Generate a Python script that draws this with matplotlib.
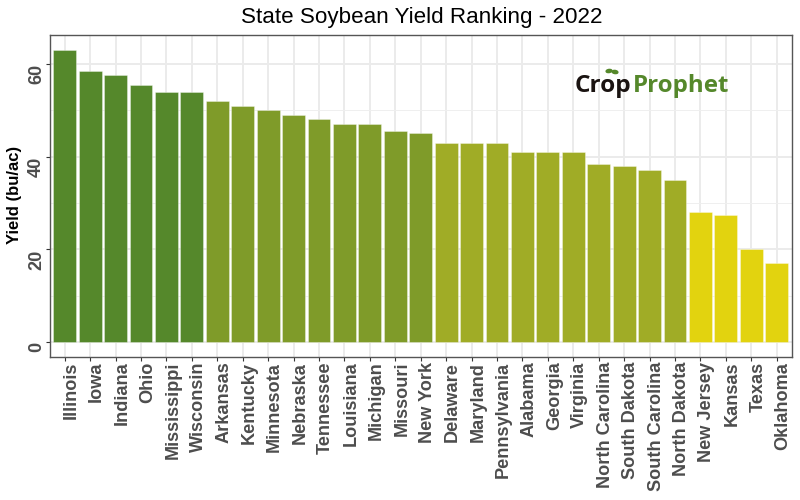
import numpy as np
import matplotlib
matplotlib.use("Agg")
import matplotlib.pyplot as plt
from matplotlib.patches import Ellipse
from matplotlib.transforms import ScaledTranslation

plt.rcParams["font.family"] = ["Liberation Sans", "DejaVu Sans"]

# Dati
states = [
    "Illinois", "Iowa", "Indiana", "Ohio", "Mississippi", "Wisconsin",
    "Arkansas", "Kentucky", "Minnesota", "Nebraska", "Tennessee", "Louisiana",
    "Michigan", "Missouri", "New York", "Delaware", "Maryland", "Pennsylvania",
    "Alabama", "Georgia", "Virginia", "North Carolina", "South Dakota",
    "South Carolina", "North Dakota", "New Jersey", "Kansas", "Texas", "Oklahoma",
]
yields = [
    63, 58.5, 57.5, 55.5, 54, 54,
    52, 51, 50, 49, 48, 47,
    47, 45.5, 45, 43, 43, 43,
    41, 41, 41, 38.5, 38,
    37, 35, 28, 27.5, 20, 17,
]
y_ticks = [0, 20, 40, 60]
y_minor = [10, 30, 50]

width_px = 800
height_px = 500


def bar_color(value):
    # Quattro classi di resa
    if value >= 53:
        return "#55882B"
    if value >= 44:
        return "#7F9B29"
    if value >= 30:
        return "#A0AC26"
    return "#E2D30F"


fig = plt.figure(figsize=(8, 5), dpi=100)
left, right, top, bottom = 49.5, 792.0, 35.3, 356.7
ax = fig.add_axes([left / width_px, 1 - bottom / height_px,
                   (right - left) / width_px, (bottom - top) / height_px])

x = np.arange(len(states))
ax.bar(x, yields, width=0.9, color=[bar_color(v) for v in yields],
       edgecolor=(1, 1, 1, 0.4), linewidth=0.6, zorder=3)

ax.set_xlim(-0.6, len(states) - 1 + 0.6)
ax.set_ylim(-3.15, 66.15)

ax.set_xticks(x)
ax.set_xticklabels(states, rotation=90, ha="center", va="top",
                   fontsize=13.1, fontweight="bold", color="#4D4D4D")
ax.set_yticks(y_ticks)
ax.set_yticklabels(y_ticks, rotation=90, va="top",
                   fontsize=13.1, fontweight="bold", color="#4D4D4D")
ax.set_yticks(y_minor, minor=True)

ax.tick_params(axis="both", which="major", length=3.1, width=0.8, color="#333333")
ax.tick_params(axis="x", which="major", pad=0.5)
ax.tick_params(axis="y", which="major", pad=0)
ax.tick_params(axis="y", which="minor", length=0)

# Le etichette x stanno a destra del tick, come nell'originale
shift = ScaledTranslation(6.5 / 100, 0, fig.dpi_scale_trans)
for label in ax.get_xticklabels():
    label.set_transform(label.get_transform() + shift)

ax.grid(True, which="major", color="#EBEBEB", linewidth=1.4, zorder=0)
ax.grid(True, which="minor", axis="y", color="#EFEFEF", linewidth=0.7, zorder=0)
ax.set_axisbelow(True)

for spine in ax.spines.values():
    spine.set_color("#555555")
    spine.set_linewidth(1.0)
    spine.set_zorder(5)

fig.text(421.5 / width_px, 1 - 23 / height_px, "State Soybean Yield Ranking - 2022",
         ha="center", va="baseline", fontsize=16.1, color="black")
fig.text(14 / width_px, 1 - 195 / height_px, "Yield (bu/ac)", rotation=90,
         ha="center", va="center", fontsize=12, fontweight="bold", color="black")

# Logo come testo
crop = fig.text(575 / width_px, 1 - 92 / height_px, "Crop", ha="left", va="baseline",
                fontsize=17.6, fontweight="bold", family="Open Sans", color="#1A1311", zorder=6)
fig.canvas.draw()
crop_box = crop.get_window_extent()
fig.text(633 / width_px, 1 - 92 / height_px, "Prophet", ha="left", va="baseline",
         fontsize=17.4, fontweight="bold", family="Open Sans", color="#55882B", zorder=6)

# Germoglio sopra la "o"
fig.add_artist(Ellipse((609 / width_px, 1 - 71 / height_px), 6 / width_px, 3 / height_px,
                       angle=30, color="#55882B"))
fig.add_artist(Ellipse((615 / width_px, 1 - 72 / height_px), 6 / width_px, 3 / height_px,
                       angle=-30, color="#55882B"))

plt.savefig("out.png", dpi=100)
plt.close()
